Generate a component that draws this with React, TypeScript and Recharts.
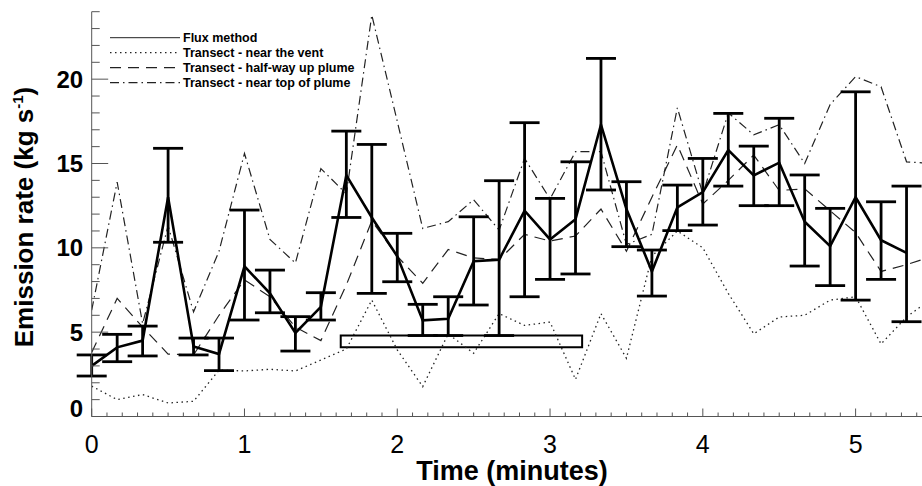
import React from 'react'
import { LineChart, Line, XAxis, YAxis, ErrorBar, ReferenceArea } from 'recharts'

// time of each sample, seconds from start
const seconds = [
	0, 10, 20, 30, 40, 50, 60, 70, 80, 90, 100, 110, 120, 130, 140, 150, 160,
	170, 180, 190, 200, 210, 220, 230, 240, 250, 260, 270, 280, 290, 300, 310,
	320, 330
]

// flux method, kg/s, with upper and lower ends of the error bars
const flux = [
	3.0, 4.1, 4.5, 13.0, 4.15, 3.7, 8.9, 7.3, 4.95, 6.5, 14.3, 11.8, 9.5, 5.7,
	5.8, 9.2, 9.3, 12.2, 10.5, 11.7, 17.3, 12.3, 8.6, 12.4, 13.3, 15.8, 14.3,
	15.05, 11.55, 10.1, 13.0, 10.45, 9.7
]
const fluxHigh = [
	3.65, 4.87, 5.36, 15.9, 4.65, 4.65, 12.24, 8.68, 5.92, 7.34, 16.92, 16.13,
	10.86, 6.65, 7.1, 11.84, 13.98, 17.42, 12.93, 15.1, 21.23, 13.92, 9.87,
	13.72, 15.3, 17.97, 16.03, 17.68, 14.32, 12.34, 19.25, 12.73, 13.66
]
const fluxLow = [
	2.4, 3.25, 3.59, 10.33, 3.65, 2.72, 5.72, 6.15, 3.88, 5.72, 11.8, 7.3, 7.99,
	4.8, 4.8, 6.61, 4.8, 7.1, 8.13, 8.45, 13.43, 10.07, 7.14, 11.02, 11.35,
	13.66, 12.5, 12.5, 8.92, 7.76, 6.9, 8.13, 5.62
]

// transects
const nearVent = [
	1.8, 1.0, 1.3, 0.8, 0.9, 2.75, 2.7, 2.8, 2.7, 3.35, 4.0, 6.9, 3.95, 1.77,
	4.9, 3.75, 6.1, 5.4, 5.6, 2.2, 6.1, 3.45, 9.5, 11.0, 10.0, 7.3, 4.9, 5.9,
	6.0, 6.9, 7.1, 4.3, 5.9, 7.0
]
const halfWay = [
	3.8, 7.0, 5.3, 3.7, 3.65, 6.0, 8.1, 7.1, 5.3, 4.5, 7.8, 11.6, 9.5, 7.9, 9.9,
	9.4, 9.3, 10.8, 10.4, 10.7, 12.3, 9.8, 13.0, 16.1, 12.6, 14.0, 15.5, 13.4,
	13.5, 12.2, 10.9, 8.6, 9.0, 9.5
]
const nearTop = [
	6.3, 13.9, 5.5, 11.3, 6.2, 9.8, 15.6, 10.5, 9.1, 14.7, 13.2, 23.8, 17.5,
	11.15, 11.55, 12.85, 11.05, 15.3, 12.9, 15.7, 15.7, 10.2, 10.8, 18.3, 13.2,
	18.0, 16.7, 17.3, 15.0, 18.5, 20.15, 19.55, 15.1, 15.0
]

// the open box (minutes / kg s-1)
const boxTime = [1.63, 3.21]
const boxRate = [4.1, 4.8]

const xTickLabels = [0, 1, 2, 3, 4, 5]
const yTickLabels = [0, 5, 10, 15, 20]
const legendLabels = [
	'Flux method',
	'Transect - near the vent',
	'Transect - half-way up plume',
	'Transect - near top of plume'
]

const rows = seconds.map((s, i) => ({
	t: s / 60,
	flux: flux[i],
	fluxErr:
		flux[i] == null ? undefined : [flux[i] - fluxLow[i], fluxHigh[i] - flux[i]],
	vent: nearVent[i],
	half: halfWay[i],
	top: nearTop[i]
}))

// minor ticks every 0.1 min and every 1 kg/s
const xTicks = Array.from({ length: 56 }, (_, k) => k / 10)
const yTicks = Array.from({ length: 25 }, (_, k) => k)

const FONT = '"Liberation Sans", Arial, Helvetica, sans-serif'
const AXIS = '#555'
const DOTS = '1.5 3.5'
const DASH = '11 7'
const DASHDOT = '9 4 1.5 4'

function BottomTick({ x, y, payload }: any) {
	const v = payload.value
	const major = Number.isInteger(v)
	return (
		<g>
			<line x1={x} x2={x} y1={y} y2={y - (major ? 8 : 4)} stroke={AXIS} />
			{major && xTickLabels.includes(v) && (
				<text x={x} y={y + 36} textAnchor='middle' fontSize={25} fontFamily={FONT} fill='#000'>
					{v}
				</text>
			)}
		</g>
	)
}

function TopTick({ x, y, payload }: any) {
	const major = Number.isInteger(payload.value)
	return <line x1={x} x2={x} y1={y} y2={y + (major ? 8 : 4)} stroke={AXIS} />
}

function LeftTick({ x, y, payload }: any) {
	const v = payload.value
	const major = v % 5 === 0
	return (
		<g>
			<line x1={x} x2={x + (major ? 16.5 : 8)} y1={y} y2={y} stroke={AXIS} />
			{major && yTickLabels.includes(v) && (
				<text
					x={x - 8.5}
					y={v === 0 ? y : y + 8.5}
					textAnchor='end'
					fontSize={24}
					fontWeight='bold'
					fontFamily={FONT}
					fill='#000'
				>
					{v}
				</text>
			)}
		</g>
	)
}

function RightTick({ x, y, payload }: any) {
	const major = payload.value % 5 === 0
	return <line x1={x} x2={x - (major ? 16.5 : 8)} y1={y} y2={y} stroke={AXIS} />
}

function Overlay() {
	const styles = [
		{ dash: undefined, w: 1 },
		{ dash: DOTS, w: 1.3 },
		{ dash: DASH, w: 1.2 },
		{ dash: DASHDOT, w: 1.2 }
	]
	return (
		<svg
			width={922}
			height={486}
			style={{ position: 'absolute', left: 0, top: 0, pointerEvents: 'none' }}
		>
			{legendLabels.map((label, i) => {
				const cy = 37.7 + i * 15
				return (
					<g key={label}>
						<line
							x1={110}
							x2={180}
							y1={cy}
							y2={cy}
							stroke='#222'
							strokeWidth={styles[i].w}
							strokeDasharray={styles[i].dash}
						/>
						<text x={183} y={cy + 4.3} fontSize={12.5} fontWeight='bold' fontFamily={FONT} fill='#000'>
							{label}
						</text>
					</g>
				)
			})}
			<text
				x={512}
				y={480}
				textAnchor='middle'
				fontSize={27}
				fontWeight='bold'
				fontFamily={FONT}
				fill='#000'
			>
				Time (minutes)
			</text>
			<text
				transform='translate(33 217) rotate(-90)'
				textAnchor='middle'
				fontSize={26}
				fontWeight='bold'
				fontFamily={FONT}
				fill='#000'
			>
				Emission rate (kg s
				<tspan dy={-10} fontSize={15}>
					-1
				</tspan>
				<tspan dy={10}>)</tspan>
			</text>
		</svg>
	)
}

export default function App() {
	return (
		<div
			style={{
				position: 'fixed',
				left: 0,
				top: 0,
				width: 922,
				height: 486,
				overflow: 'hidden',
				background: '#fff'
			}}
		>
			<LineChart
				width={940}
				height={486}
				data={rows}
				margin={{ top: 11.7, right: 8, left: 0, bottom: 9.5 }}
			>
				<XAxis
					dataKey='t'
					type='number'
					domain={[0, 5.5]}
					allowDataOverflow
					ticks={xTicks}
					interval={0}
					tickSize={0}
					tickMargin={0}
					tick={BottomTick}
					tickLine={false}
					axisLine={{ stroke: AXIS }}
					height={60}
				/>
				<XAxis
					xAxisId='top'
					orientation='top'
					dataKey='t'
					type='number'
					domain={[0, 5.5]}
					allowDataOverflow
					ticks={xTicks}
					interval={0}
					tickSize={0}
					tickMargin={0}
					tick={TopTick}
					tickLine={false}
					axisLine={{ stroke: AXIS }}
					height={0}
				/>
				<YAxis
					type='number'
					domain={[0, 24]}
					allowDataOverflow
					ticks={yTicks}
					interval={0}
					tickSize={0}
					tickMargin={0}
					tick={LeftTick}
					tickLine={false}
					axisLine={{ stroke: AXIS }}
					width={91.7}
				/>
				<YAxis
					yAxisId='right'
					orientation='right'
					type='number'
					domain={[0, 24]}
					allowDataOverflow
					ticks={yTicks}
					interval={0}
					tickSize={0}
					tickMargin={0}
					tick={RightTick}
					tickLine={false}
					axisLine={{ stroke: AXIS }}
					width={0}
				/>
				<Line
					dataKey='vent'
					stroke='#222'
					strokeWidth={1.3}
					strokeDasharray={DOTS}
					dot={false}
					isAnimationActive={false}
				/>
				<Line
					dataKey='half'
					stroke='#222'
					strokeWidth={1.2}
					strokeDasharray={DASH}
					dot={false}
					isAnimationActive={false}
				/>
				<Line
					dataKey='top'
					stroke='#222'
					strokeWidth={1.2}
					strokeDasharray={DASHDOT}
					dot={false}
					isAnimationActive={false}
				/>
				<Line
					dataKey='flux'
					stroke='#000'
					strokeWidth={2.6}
					dot={false}
					isAnimationActive={false}
				>
					<ErrorBar
						dataKey='fluxErr'
						direction='y'
						width={15}
						stroke='#000'
						strokeWidth={2.8}
						isAnimationActive={false}
					/>
				</Line>
				<ReferenceArea
					x1={boxTime[0]}
					x2={boxTime[1]}
					y1={boxRate[0]}
					y2={boxRate[1]}
					fill='#fff'
					fillOpacity={1}
					stroke='#000'
					strokeWidth={2}
				/>
			</LineChart>
			<Overlay />
		</div>
	)
}
